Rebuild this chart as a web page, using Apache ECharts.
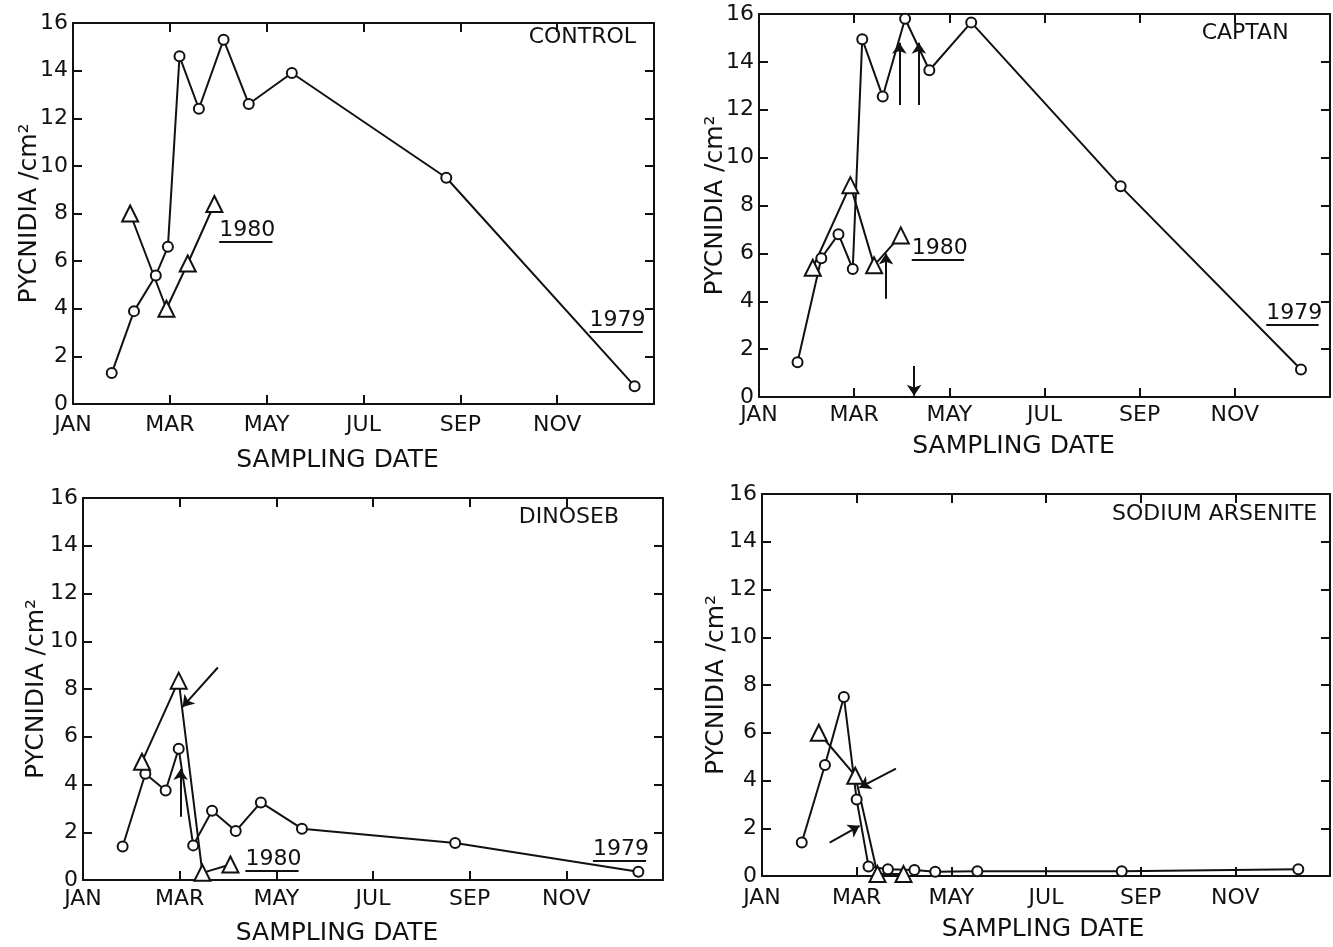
<!DOCTYPE html>
<html>
<head>
<meta charset="utf-8">
<title>Pycnidia per cm2 by sampling date</title>
<script src="https://cdn.jsdelivr.net/npm/echarts@6/dist/echarts.min.js"></script>
<style>
  html, body { margin: 0; padding: 0; background: #fff; }
  #chart { width: 1333px; height: 947px; }
</style>
</head>
<body>
<div id="chart"></div>
<script>
// x is month counted from 1 Jan (0) to end of Dec (12)
const monthTicks = [0, 2, 4, 6, 8, 10]
const monthNames = ['JAN', 'MAR', 'MAY', 'JUL', 'SEP', 'NOV']
const panelNames = ['CONTROL', 'CAPTAN', 'DINOSEB', 'SODIUM ARSENITE']

// 1979 samples (circles) [month, pycnidia/cm2]
const control1979 = [[0.8, 1.3], [1.26, 3.9], [1.71, 5.4], [1.96, 6.6], [2.2, 14.6], [2.6, 12.4], [3.11, 15.3], [3.63, 12.6], [4.52, 13.9], [7.71, 9.5], [11.6, 0.75]]
const captan1979 = [[0.81, 1.45], [1.31, 5.8], [1.67, 6.8], [1.97, 5.35], [2.17, 14.95], [2.6, 12.55], [3.07, 15.8], [3.58, 13.65], [4.46, 15.65], [7.6, 8.8], [11.39, 1.15]]
const dinoseb1979 = [[0.82, 1.4], [1.29, 4.45], [1.71, 3.75], [1.98, 5.5], [2.28, 1.45], [2.67, 2.9], [3.16, 2.05], [3.68, 3.25], [4.53, 2.15], [7.7, 1.55], [11.49, 0.35]]
const arsenite1979 = [[0.84, 1.4], [1.33, 4.65], [1.73, 7.5], [2.0, 3.2], [2.25, 0.4], [2.66, 0.28], [3.22, 0.25], [3.66, 0.18], [4.55, 0.2], [7.6, 0.2], [11.33, 0.28]]

// 1980 samples (triangles)
const control1980 = [[1.18, 8.0], [1.93, 4.0], [2.37, 5.9], [2.92, 8.4]]
const captan1980 = [[1.13, 5.4], [1.92, 8.85], [2.42, 5.5], [2.98, 6.75]]
const dinoseb1980 = [[1.22, 4.95], [1.98, 8.35], [2.47, 0.3], [3.05, 0.65]]
const arsenite1980 = [[1.2, 6.0], [1.97, 4.2], [2.44, 0.08], [2.99, 0.08]]

// arrows [fromMonth, fromValue, toMonth, toValue]
const controlArrows = []
const captanArrows = [[2.95, 12.2, 2.95, 14.8], [3.36, 12.2, 3.36, 14.8], [2.67, 4.1, 2.67, 6.0], [3.26, 1.3, 3.26, 0.05]]
const dinosebArrows = [[2.79, 8.9, 2.06, 7.25], [2.02, 2.65, 2.02, 4.65]]
const arseniteArrows = [[2.83, 4.5, 2.06, 3.7], [1.43, 1.4, 2.06, 2.1]]

// year tags [month of left edge, value, text]
const controlYears = [[3.02, 7.3, '1980'], [10.67, 3.5, '1979']]
const captanYears = [[3.21, 6.2, '1980'], [10.66, 3.5, '1979']]
const dinosebYears = [[3.36, 0.85, '1980'], [10.55, 1.3, '1979']]
const arseniteYears = []

// top-right panel title anchor [month of right edge, value]
const titleAnchors = [[11.63, 15.4], [11.13, 15.2], [11.09, 15.2], [11.73, 15.15]]

const panels = [
  { c79: control1979, c80: control1980, arrows: controlArrows, years: controlYears },
  { c79: captan1979, c80: captan1980, arrows: captanArrows, years: captanYears },
  { c79: dinoseb1979, c80: dinoseb1980, arrows: dinosebArrows, years: dinosebYears },
  { c79: arsenite1979, c80: arsenite1980, arrows: arseniteArrows, years: arseniteYears }
]

const grids = [
  { left: 73, top: 23, width: 581, height: 381 },
  { left: 759, top: 14, width: 579, height: 383 },
  { left: 83, top: 498, width: 580, height: 383 },
  { left: 762, top: 494, width: 576, height: 382 }
]
const nameGapX = [44, 37, 41, 41]
const nameShiftX = [52, 62, 72, 6]
const nameGapY = [31, 31, 34, 33]
const labelMargin = [10, 7, 8, 11]

const font = 'DejaVu Sans'
const ink = '#111'

let xAxes = []
let yAxes = []
let series = []

panels.forEach(function (p, i) {
  let axisLine = { show: true, onZero: false, lineStyle: { color: ink, width: 2 } }
  let tick = { show: true, inside: true, length: 9, lineStyle: { color: ink, width: 2 } }
  // bottom axis with month labels
  xAxes.push({
    type: 'value', gridIndex: i, position: 'bottom', min: 0, max: 12, interval: 2,
    axisLine: axisLine, axisTick: tick, splitLine: { show: false },
    axisLabel: {
      color: ink, fontFamily: font, fontSize: 22, margin: labelMargin[i],
      formatter: function (v) {
        let k = monthTicks.indexOf(v)
        return k < 0 ? '' : monthNames[k]
      }
    },
    name: 'SAMPLING DATE', nameLocation: 'middle', nameGap: nameGapX[i], nameMoveOverlap: false,
    nameTextStyle: { color: ink, fontFamily: font, fontSize: 25, padding: [0, nameShiftX[i], 0, 0] }
  })
  // top frame with ticks only
  xAxes.push({
    type: 'value', gridIndex: i, position: 'top', min: 0, max: 12, interval: 2,
    axisLine: axisLine, axisTick: tick, axisLabel: { show: false }, splitLine: { show: false }
  })
  yAxes.push({
    type: 'value', gridIndex: i, position: 'left', min: 0, max: 16, interval: 2,
    axisLine: axisLine, axisTick: tick, splitLine: { show: false },
    axisLabel: { color: ink, fontFamily: font, fontSize: 22, margin: 5 },
    name: 'PYCNIDIA /cm\u00B2', nameLocation: 'middle', nameGap: nameGapY[i], nameRotate: 90,
    nameMoveOverlap: false,
    nameTextStyle: { color: ink, fontFamily: font, fontSize: 25 }
  })
  yAxes.push({
    type: 'value', gridIndex: i, position: 'right', min: 0, max: 16, interval: 2,
    axisLine: axisLine, axisTick: tick, axisLabel: { show: false }, splitLine: { show: false }
  })

  let arrowLines = p.arrows.map(function (a) {
    return [{ coord: [a[0], a[1]], symbol: 'none' }, { coord: [a[2], a[3]], symbol: 'arrow' }]
  })
  // underline under each year tag
  let underlines = p.years.map(function (t) {
    return [{ coord: [t[0], t[1] - 0.48], symbol: 'none' }, { coord: [t[0] + 1.1, t[1] - 0.48], symbol: 'none' }]
  })

  series.push({
    name: '1979', type: 'line', xAxisIndex: 2 * i, yAxisIndex: 2 * i,
    data: p.c79, symbol: 'circle', symbolSize: 10,
    lineStyle: { color: ink, width: 2 },
    itemStyle: { color: '#fff', borderColor: ink, borderWidth: 2 },
    markLine: {
      silent: true, symbolSize: 11, animation: false,
      label: { show: false },
      lineStyle: { color: ink, width: 2, type: 'solid', opacity: 1 },
      data: arrowLines.concat(underlines)
    }
  })
  series.push({
    name: '1980', type: 'line', xAxisIndex: 2 * i, yAxisIndex: 2 * i,
    data: p.c80, symbol: 'triangle', symbolSize: 16,
    lineStyle: { color: ink, width: 2 },
    itemStyle: { color: '#fff', borderColor: ink, borderWidth: 2 }
  })
  // text tags: year labels and the treatment name
  let tags = p.years.map(function (t) {
    return { value: [t[0], t[1]], name: t[2], label: { align: 'left', fontSize: 22 } }
  })
  tags.push({ value: titleAnchors[i], name: panelNames[i], label: { align: 'right', fontSize: 22 } })
  series.push({
    type: 'scatter', xAxisIndex: 2 * i, yAxisIndex: 2 * i,
    symbolSize: 0, silent: true, data: tags,
    itemStyle: { color: ink, opacity: 1 },
    label: {
      show: true, position: 'inside', formatter: '{b}', opacity: 1,
      color: ink, fontFamily: font, fontSize: 22, verticalAlign: 'middle',
      textBorderWidth: 0, textBorderColor: 'transparent'
    }
  })
})

let myChart = echarts.init(document.getElementById('chart'), null, { renderer: 'canvas' })
let option = {
  animation: false,
  backgroundColor: '#fff',
  grid: grids,
  xAxis: xAxes,
  yAxis: yAxes,
  series: series
}
myChart.setOption(option)
</script>
</body>
</html>
